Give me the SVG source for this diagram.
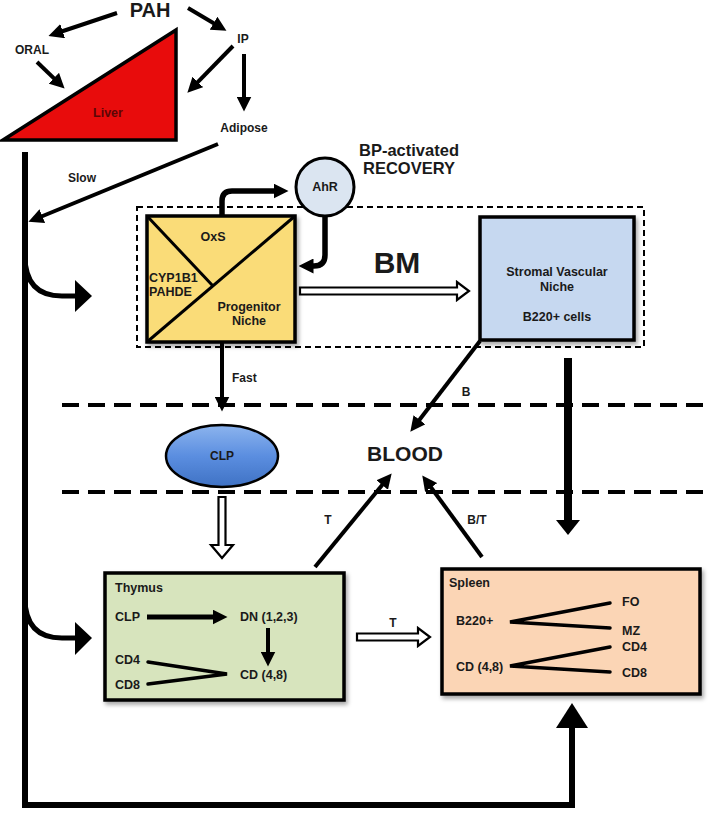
<svg xmlns="http://www.w3.org/2000/svg" width="709" height="813" viewBox="0 0 709 813">
<style>
text{font-family:"Liberation Sans",Arial,sans-serif;font-weight:bold;fill:#1a1a1a}
.s{font-size:12.5px}
.m{font-size:12px}
.c{text-anchor:middle}
.ln{stroke:#000;stroke-width:4;fill:none}
.thin{stroke:#000;stroke-width:3.5;fill:none;stroke-linecap:round}
.box{stroke:#000;stroke-width:3.5}
.hollow{fill:#fff;stroke:#000;stroke-width:2.2;stroke-linejoin:miter}
.dash{stroke:#000;stroke-width:4;stroke-dasharray:17 9;fill:none}
</style>
<defs>
<marker id="ah" viewBox="0 0 10 10" refX="5" refY="5" markerWidth="15" markerHeight="15" markerUnits="userSpaceOnUse" orient="auto"><path d="M0,0 L10,5 L0,10 z" fill="#000"/></marker>
<filter id="sh" x="-5%" y="-5%" width="115%" height="120%"><feDropShadow dx="2" dy="3" stdDeviation="2" flood-color="#000" flood-opacity="0.35"/></filter>
<linearGradient id="clpg" x1="0" y1="0" x2="0" y2="1"><stop offset="0" stop-color="#8cb4ee"/><stop offset="0.5" stop-color="#5b8ee0"/><stop offset="1" stop-color="#3f72c4"/></linearGradient>
</defs>

<g id="background-lines">
<line class="dash" x1="62" y1="405" x2="709" y2="405"/>
<line class="dash" x1="62" y1="492" x2="709" y2="492"/>
<rect x="137" y="207" width="507" height="140" fill="none" stroke="#000" stroke-width="2" stroke-dasharray="6 4"/>
</g>

<g id="pah"><text x="150" y="17" class="c" font-size="20">PAH</text></g>
<g id="oral"><text x="32" y="54" class="c m">ORAL</text></g>
<g id="ip"><text x="243" y="43" class="c m">IP</text></g>
<g id="liver">
<polygon points="3,140 176,30 176,140" fill="#e80c0c" stroke="#000" stroke-width="3.5" stroke-linejoin="miter"/>
<text x="108" y="117" class="c s" style="fill:#5c0606">Liver</text>
</g>
<g id="adipose"><text x="244" y="132" class="c m">Adipose</text></g>
<g id="slow-label"><text x="82" y="182" class="c m">Slow</text></g>

<g id="bp-recovery">
<text x="409" y="156" class="c" font-size="16.5">BP-activated</text>
<text x="409" y="174" class="c" font-size="16.5">RECOVERY</text>
</g>

<g id="ahr">
<circle cx="325" cy="187" r="29" fill="#dbe5f1" stroke="#000" stroke-width="3"/>
<text x="325" y="191" class="c s">AhR</text>
</g>

<g id="progenitor-box">
<rect x="147" y="216" width="148" height="126" fill="#fadc78" class="box" filter="url(#sh)"/>
<line x1="147" y1="342" x2="295" y2="216" stroke="#000" stroke-width="3"/>
<line x1="147" y1="216" x2="213" y2="286" stroke="#000" stroke-width="3"/>
<text x="213" y="241" class="c s">OxS</text>
<text x="149" y="282" class="s">CYP1B1</text>
<text x="149" y="296" class="s">PAHDE</text>
<text x="249" y="311" class="c s">Progenitor</text>
<text x="249" y="325" class="c s">Niche</text>
</g>

<g id="bm-label"><text x="397" y="273" class="c" font-size="30">BM</text></g>

<g id="stromal-box">
<rect x="480" y="217" width="154" height="123" fill="#c6d8f0" class="box" filter="url(#sh)"/>
<text x="557" y="276" class="c s">Stromal Vascular</text>
<text x="557" y="291" class="c s">Niche</text>
<text x="557" y="321" class="c s">B220+ cells</text>
</g>

<g id="fast-label"><text x="232" y="382" class="m">Fast</text></g>

<g id="clp">
<ellipse cx="222" cy="456" rx="56" ry="31" fill="url(#clpg)" stroke="#000" stroke-width="2.5"/>
<text x="222" y="460" class="c m">CLP</text>
</g>

<g id="blood"><text x="405" y="461" class="c" font-size="21">BLOOD</text></g>
<g id="b-label"><text x="466" y="396" class="c m">B</text></g>
<g id="t-label"><text x="328" y="524" class="c m">T</text></g>
<g id="bt-label"><text x="477" y="524" class="c m">B/T</text></g>
<g id="t2-label"><text x="393" y="627" class="c m">T</text></g>

<g id="thymus">
<rect x="105" y="573" width="239" height="127" fill="#d7e4bd" class="box" filter="url(#sh)"/>
<text x="115" y="592" class="s">Thymus</text>
<text x="115" y="621" class="s">CLP</text>
<text x="240" y="621" class="s">DN (1,2,3)</text>
<text x="115" y="664" class="s">CD4</text>
<text x="115" y="689" class="s">CD8</text>
<text x="240" y="679" class="s">CD (4,8)</text>
<line x1="147" y1="617" x2="220" y2="617" stroke="#000" stroke-width="5" marker-end="url(#ah)"/>
<line x1="268" y1="628" x2="268" y2="659" class="ln" marker-end="url(#ah)"/>
<polyline points="148,662 227,674 148,684" class="thin" stroke-linejoin="miter"/>
</g>

<g id="spleen">
<rect x="442" y="569" width="258" height="125" fill="#fbd5b5" class="box" filter="url(#sh)"/>
<text x="449" y="587" class="s">Spleen</text>
<text x="456" y="625" class="s">B220+</text>
<text x="456" y="671" class="s">CD (4,8)</text>
<text x="622" y="606" class="s">FO</text>
<text x="622" y="635" class="s">MZ</text>
<text x="622" y="651" class="s">CD4</text>
<text x="622" y="677" class="s">CD8</text>
<polyline points="610,603 510,622 610,628" class="thin" stroke-linejoin="miter"/>
<polyline points="610,647 510,666 610,672" class="thin" stroke-linejoin="miter"/>
</g>

<g id="connectors">
<line x1="117" y1="13" x2="55.6" y2="33.5" class="ln" marker-end="url(#ah)"/>
<line x1="188" y1="8" x2="220" y2="27" class="ln" marker-end="url(#ah)"/>
<line x1="37" y1="62" x2="59.2" y2="83.4" class="ln" marker-end="url(#ah)"/>
<line x1="233" y1="46" x2="192.6" y2="87.3" class="ln" marker-end="url(#ah)"/>
<line x1="244" y1="54" x2="244" y2="104" class="ln" marker-end="url(#ah)"/>
<line x1="218" y1="144" x2="35.4" y2="219" class="ln" marker-end="url(#ah)"/>
<path d="M222,216 V201 Q222,191 232,191 H281" stroke="#000" stroke-width="5.5" fill="none" marker-end="url(#ah)"/>
<path d="M325,216 V255 Q325,266 314,266 H306" stroke="#000" stroke-width="5.5" fill="none" marker-end="url(#ah)"/>
<polygon class="hollow" points="300,287.5 457,287.5 457,282 469,291 457,300 457,294.5 300,294.5"/>
<line x1="222" y1="343" x2="222" y2="404" class="ln" marker-end="url(#ah)"/>
<line x1="480" y1="341" x2="414.9" y2="425.7" class="ln" marker-end="url(#ah)"/>
<line x1="315" y1="567" x2="386.9" y2="479.2" class="ln" marker-end="url(#ah)"/>
<line x1="482" y1="557" x2="426.7" y2="481.5" class="ln" marker-end="url(#ah)"/>
<line x1="568" y1="358" x2="568" y2="522" stroke="#000" stroke-width="8"/>
<polygon points="556,520 580,520 568,535" fill="#000"/>
<polygon class="hollow" points="218.5,497 225.5,497 225.5,545 233,545 222,558 211,545 218.5,545"/>
<polygon class="hollow" points="357,633.5 418,633.5 418,628 430,637 418,646 418,640.5 357,640.5"/>
<path d="M25,152 V805 H572 V726" stroke="#000" stroke-width="6" fill="none"/>
<polygon points="556,728 588,728 572,703" fill="#000"/>
<path d="M25,256 Q25,296 62,296 H77" stroke="#000" stroke-width="5" fill="none"/>
<polygon points="75,280 92,296 75,312" fill="#000"/>
<path d="M25,598 Q25,638 62,638 H77" stroke="#000" stroke-width="5" fill="none"/>
<polygon points="75,622 92,638 75,655" fill="#000"/>
</g>
</svg>
